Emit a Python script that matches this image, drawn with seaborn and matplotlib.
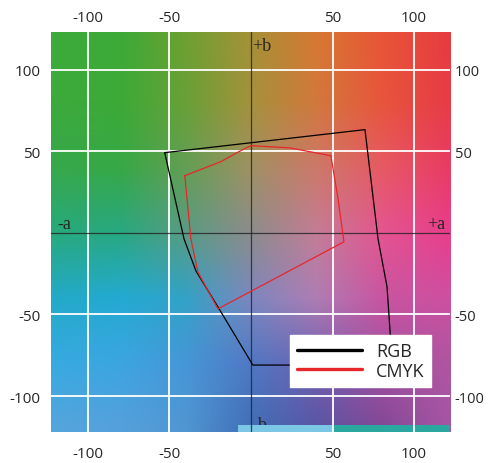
"""a*b* plane with RGB and CMYK gamut outlines."""

import matplotlib
matplotlib.use("Agg")
import matplotlib.pyplot as plt
import numpy as np
import pandas as pd
import seaborn as sns
from matplotlib.patches import Rectangle


# gamut outlines, vertices as (a*, b*)
RGB_A = [-52.8, 69.9, 77.9, 83.4, 85.3, 86.0, 1.2, -20.2, -33.7, -41.0]
RGB_B = [49.1, 63.2, -3.7, -33.0, -60.7, -81.0, -81.0, -45.4, -23.3, -3.7]
CMYK_A = [-40.5, -18.4, -7.4, 0.0, 24.0, 49.0, 53.4, 57.0, -20.2, -32.5, -36.8]
CMYK_B = [35.0, 43.6, 49.7, 53.4, 52.0, 47.2, 20.9, -5.5, -46.6, -24.0, -3.7]

TICKS = [-100, -50, 50, 100]
TICK_LABELS = ["-100", "-50", "50", "100"]

# background colour samples on a 7x7 grid (rows top->bottom in b, cols left->right in a)
GRID_A = [-120, -80, -40, 0, 40, 80, 120]
GRID_B = [120, 80, 40, 0, -40, -80, -120]
GRID_RGB = [
    [(60, 170, 60), (60, 170, 55), (110, 160, 50), (165, 145, 55), (215, 120, 50), (232, 85, 55), (230, 60, 65)],
    [(60, 170, 60), (60, 170, 55), (105, 160, 55), (165, 145, 60), (210, 120, 60), (232, 85, 60), (232, 60, 70)],
    [(55, 168, 75), (55, 168, 70), (100, 158, 85), (160, 145, 100), (205, 120, 105), (230, 90, 100), (232, 60, 100)],
    [(40, 170, 125), (40, 168, 130), (90, 155, 132), (140, 140, 140), (195, 125, 150), (228, 85, 145), (232, 62, 140)],
    [(35, 170, 200), (35, 170, 210), (50, 162, 198), (125, 135, 190), (175, 125, 180), (200, 85, 160), (205, 80, 160)],
    [(55, 170, 225), (60, 165, 225), (70, 150, 215), (80, 120, 195), (115, 95, 175), (165, 80, 160), (175, 85, 160)],
    [(85, 165, 220), (85, 160, 220), (80, 150, 210), (65, 110, 182), (90, 85, 165), (130, 72, 150), (165, 85, 165)],
]

XLIM = (-122.5, 122.0)
YLIM = (-122.0, 123.0)


def background_image(n=320):
    a = np.linspace(XLIM[0], XLIM[1], n)
    b = np.linspace(YLIM[0], YLIM[1], n)
    grid = np.array(GRID_RGB, dtype=float)[::-1]  # rows now bottom->top
    gb = np.array(GRID_B[::-1], dtype=float)
    # interpolate along a for each grid row, then along b
    rows = np.stack([[np.interp(a, GRID_A, grid[i, :, k]) for k in range(3)]
                     for i in range(len(gb))])  # (nb, 3, n)
    img = np.empty((n, n, 3))
    for k in range(3):
        for j in range(n):
            img[:, j, k] = np.interp(b, gb, rows[:, k, j])
    return img / 255.0


def closed(xs, ys, name):
    return pd.DataFrame({"a": xs + xs[:1], "b": ys + ys[:1], "gamut": name})


def main():
    sns.set_style("white")
    plt.rcParams["font.family"] = ["Open Sans", "DejaVu Sans"]

    fig = plt.figure(figsize=(4.88, 4.64), dpi=100)
    ax = fig.add_axes([51 / 488, 31 / 464, 399 / 488, 400 / 464])

    ax.imshow(background_image(), extent=[XLIM[0], XLIM[1], YLIM[0], YLIM[1]],
              origin="lower", aspect="auto", interpolation="bilinear", zorder=0)

    # scan artefact strip along the bottom edge
    ax.add_patch(Rectangle((-8, YLIM[0]), 58, 4, color="#7cc6e6", zorder=1, lw=0))
    ax.add_patch(Rectangle((50, YLIM[0]), 72, 4, color="#2aa8a0", zorder=1, lw=0))

    for t in TICKS:
        ax.axvline(t, color="white", lw=1.3, zorder=2)
        ax.axhline(t, color="white", lw=1.3, zorder=2)
    ax.axvline(0, color="#222222", lw=0.9, alpha=0.8, zorder=2)
    ax.axhline(0, color="#222222", lw=0.9, alpha=0.8, zorder=2)

    df = pd.concat([closed(RGB_A, RGB_B, "RGB"), closed(CMYK_A, CMYK_B, "CMYK")])
    sns.lineplot(data=df, x="a", y="b", hue="gamut", units="gamut", sort=False,
                 estimator=None, palette={"RGB": "black", "CMYK": "#e8262a"},
                 lw=0.9, ax=ax, zorder=3)

    serif = ["Liberation Serif", "DejaVu Serif"]
    ax.text(0.6, 114.5, "+b", family=serif, fontsize=13, va="center", ha="left", zorder=4)
    ax.text(0.6, -117.5, "-b", family=serif, fontsize=13, va="center", ha="left", zorder=0.5)
    ax.text(-118.5, 6, "-a", family=serif, fontsize=13, va="center", ha="left", zorder=4)
    ax.text(119, 6, "+a", family=serif, fontsize=13, va="center", ha="right", zorder=4)

    ax.set_xlim(*XLIM)
    ax.set_ylim(*YLIM)
    ax.set_xticks(TICKS, TICK_LABELS)
    ax.set_yticks(TICKS, TICK_LABELS)
    ax.tick_params(length=0, labelsize=11)
    ax.tick_params(axis="x", pad=10)
    ax.tick_params(axis="y", pad=7.5)
    ax.set_xlabel("")
    ax.set_ylabel("")
    for s in ax.spines.values():
        s.set_visible(False)

    top = ax.secondary_xaxis("top")
    top.set_xticks(TICKS, TICK_LABELS)
    top.tick_params(length=0, labelsize=11, pad=5)
    top.spines["top"].set_visible(False)

    right = ax.secondary_yaxis("right")
    right.set_yticks(TICKS, TICK_LABELS)
    right.tick_params(length=0, labelsize=10.5, pad=3.5)
    right.spines["right"].set_visible(False)

    leg = ax.legend(loc="lower left", bbox_to_anchor=(0.599, 0.1125), fontsize=13,
                    frameon=True, fancybox=False, framealpha=1, edgecolor="white",
                    facecolor="white", handlelength=3.6, handletextpad=0.75,
                    labelspacing=0.1, borderpad=0.4, borderaxespad=0, title=None)
    for line in leg.get_lines():
        line.set_linewidth(2.4)

    fig.savefig("out.png", dpi=100)


if __name__ == "__main__":
    main()
